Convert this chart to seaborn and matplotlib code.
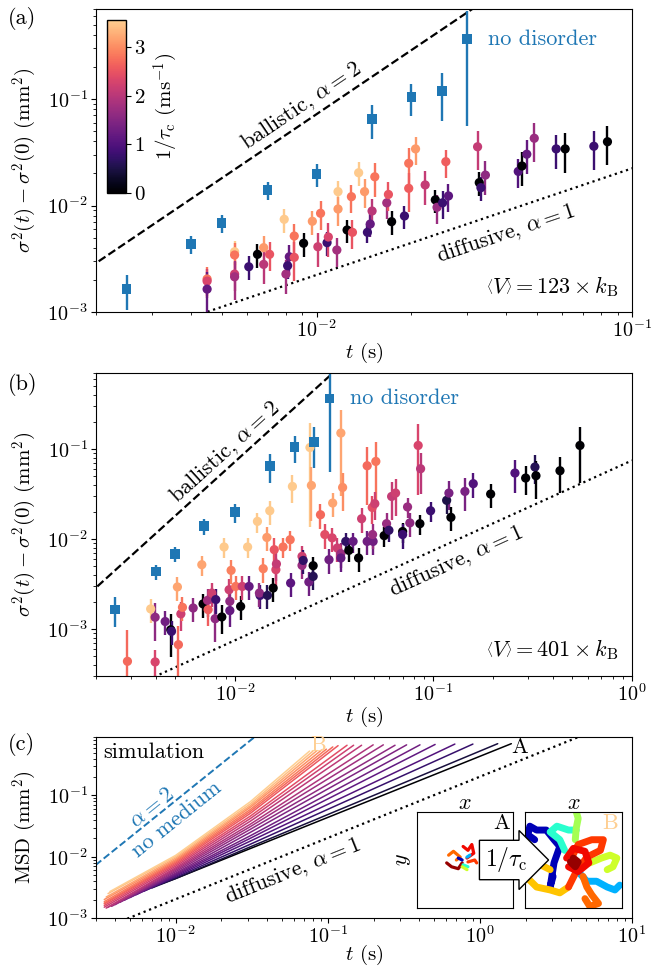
import numpy as np
import pandas as pd
import matplotlib
matplotlib.use('Agg')
import matplotlib.pyplot as plt
import matplotlib.colors as mcolors
import matplotlib.cm as cm
import matplotlib.ticker as mticker
import seaborn as sns

sns.set_style('ticks', rc={'axes.edgecolor': 'black', 'text.color': 'black',
                           'xtick.color': 'black', 'ytick.color': 'black',
                           'axes.labelcolor': 'black'})
plt.rcParams['font.family'] = ['cmr10', 'DejaVu Serif']
plt.rcParams['mathtext.fontset'] = 'cm'
plt.rcParams['axes.formatter.use_mathtext'] = True
plt.rcParams['font.size'] = 16
plt.rcParams['axes.labelsize'] = 15
plt.rcParams['xtick.labelsize'] = 14.5
plt.rcParams['ytick.labelsize'] = 14.5
plt.rcParams['xtick.major.size'] = 3.5
plt.rcParams['ytick.major.size'] = 3.5
plt.rcParams['xtick.minor.size'] = 2
plt.rcParams['ytick.minor.size'] = 2
plt.rcParams['xtick.major.pad'] = 1.5
plt.rcParams['ytick.major.pad'] = 2.5
plt.rcParams['axes.labelpad'] = 0
plt.rcParams['xtick.minor.visible'] = True
plt.rcParams['ytick.minor.visible'] = True

# no disorder reference (same in a and b), t in ms, msd in mm^2
t_nd_ms = [2.5, 4.0, 5.0, 7.0, 10.0, 15.0, 20.0, 25.0, 30.0]
msd_nd = [1.64e-3, 4.35e-3, 6.86e-3, 0.0140, 0.0198, 0.0649, 0.1045, 0.119, 0.366]
err_nd = [0.6e-3, 0.85e-3, 1.3e-3, 0.0028, 0.0048, 0.023, 0.035, 0.057, 0.31]

# panel (a): <V> = 123 kB ; t in ms, msd in 1e-3 mm^2, relative error, 1/tau_c (1/ms)
t_a_ms = [4.5, 4.5, 4.5, 5.5, 5.5, 5.5, 5.5, 6.1, 6.5, 6.8, 6.8, 7.1, 7.9, 8.0, 8.1,
          8.2, 8.5, 8.5, 9.1, 9.7, 10.1, 10.3, 10.8, 10.9, 11.6, 11.7, 11.7, 12.5, 13.0, 12.9,
          13.6, 14.2, 14.5, 14.8, 15.0, 15.3, 16.7, 16.9, 17.3, 19.0, 19.6, 19.6, 20.6, 22.1, 23.8,
          24.1, 25.1, 26.2, 25.7, 32.4, 32.8, 33.2, 34.3, 43.6, 44.8, 46.4, 49.0, 57.5, 61.4, 75.7,
          83.6]
msd_a = [2.04, 1.95, 1.64, 3.68, 3.43, 2.27, 2.14, 2.66, 3.48, 4.02, 2.80, 3.48, 7.42, 2.27, 2.72,
         3.30, 5.17, 3.26, 4.42, 7.11, 4.10, 8.45, 4.48, 5.06, 3.82, 13.5, 9.27, 5.89, 5.60, 12.1,
         20.3, 13.5, 5.60, 6.70, 8.88, 18.6, 10.6, 12.7, 7.05, 7.97, 24.9, 14.5, 34.0, 15.6, 11.3,
         9.62, 10.6, 12.3, 25.8, 35.6, 16.4, 14.7, 19.3, 20.9, 23.5, 30.3, 42.8, 34.0, 34.0, 36.0,
         39.7]
rel_a = [0.3, 0.3, 0.45, 0.25, 0.3, 0.3, 0.4, 0.25, 0.25, 0.3, 0.35, 0.3, 0.25, 0.35, 0.25,
         0.3, 0.3, 0.4, 0.25, 0.25, 0.35, 0.3, 0.25, 0.35, 0.3, 0.25, 0.3, 0.25, 0.3, 0.3,
         0.25, 0.3, 0.2, 0.25, 0.3, 0.35, 0.3, 0.3, 0.25, 0.25, 0.4, 0.4, 0.3, 0.35, 0.25,
         0.3, 0.3, 0.3, 0.3, 0.4, 0.25, 0.25, 0.35, 0.3, 0.35, 0.35, 0.4, 0.35, 0.4, 0.4,
         0.4]
inv_tau_a = [2.8, 2.3, 1.2, 3.5, 2.8, 2.2, 1.8, 0.8, 0.0, 3.1, 2.0, 2.5, 3.5, 1.8, 0.8,
             1.2, 2.8, 2.5, 0.0, 3.1, 2.2, 2.8, 0.8, 2.3, 1.8, 3.5, 3.1, 0.0, 2.5, 2.8,
             3.5, 3.1, 0.8, 1.2, 2.0, 2.8, 1.8, 2.5, 0.0, 0.8, 2.8, 2.6, 3.1, 2.1, 0.0,
             1.7, 0.8, 1.1, 2.6, 2.1, 0.0, 0.8, 1.6, 1.0, 0.0, 1.2, 1.7, 0.8, 0.0, 0.8,
             0.0]

# panel (b): <V> = 401 kB
t_b_ms = [2.88, 3.77, 3.97, 3.97, 4.46, 4.76, 4.80, 5.14, 5.20, 5.35,
          5.45, 6.17, 6.82, 6.92, 7.29, 7.66, 7.34, 7.96, 8.02, 8.60,
          8.83, 9.36, 9.44, 9.44, 9.58, 10.1, 10.7, 10.9, 11.8, 11.6,
          13.0, 13.4, 13.3, 13.9, 14.5, 14.6, 15.0, 15.6, 15.8, 16.1,
          16.2, 17.5, 19.0, 19.5, 19.1, 21.8, 21.8, 22.1, 23.6, 24.8,
          24.8, 23.9, 24.3, 27.0, 28.4, 30.9, 29.8, 31.1, 32.8, 34.2,
          34.2, 34.2, 34.9, 36.2, 37.5, 39.4, 42.0, 43.5, 46.4, 51.3,
          46.4, 49.7, 49.4, 49.2, 50.7, 56.5, 58.1, 59.7, 61.6, 64.5,
          70.0, 70.0, 74.1, 76.1, 83.8, 86.2, 85.5, 96.8, 116.6, 119.7,
          122.5, 144.1, 158.7, 194.2, 257.4, 291.4, 324.6, 328.4, 433.9, 547.0]
msd_b = [0.437, 1.67, 1.35, 0.430, 1.21, 0.98, 0.94, 2.93, 0.669, 1.47,
         1.74, 1.71, 5.18, 1.90, 2.08, 2.51, 1.64, 1.30, 2.12, 1.36,
         8.15, 2.73, 1.60, 2.03, 4.48, 2.97, 1.78, 2.97, 2.97, 8.15,
         15.7, 2.36, 2.51, 4.68, 10.4, 2.36, 20.6, 2.85, 7.61, 4.56,
         5.28, 8.15, 9.82, 38.4, 3.24, 6.41, 5.09, 5.78, 3.33, 5.05,
         3.84, 104.0, 39.4, 18.6, 11.2, 10.3, 5.89, 25.1, 7.94, 6.87,
         6.15, 150.6, 37.4, 9.40, 7.47, 9.40, 6.15, 16.8, 65.2, 72.8,
         9.40, 9.40, 11.2, 22.4, 24.7, 10.9, 14.8, 12.5, 29.7, 32.4,
         12.1, 11.2, 22.7, 15.1, 109.6, 60.4, 14.8, 20.6, 26.9, 32.4,
         17.4, 33.8, 41.2, 31.6, 54.1, 47.6, 63.1, 50.5, 57.4, 109.6]
rel_b = [1.25, 0.3, 0.45, 0.35, 0.3, 0.5, 0.3, 0.3, 0.6, 0.35,
         0.3, 0.3, 0.25, 0.3, 0.35, 0.3, 0.35, 0.45, 0.3, 0.35,
         0.25, 0.3, 0.35, 0.3, 0.3, 0.3, 0.3, 0.3, 0.3, 0.25,
         0.25, 0.3, 0.3, 0.3, 0.3, 0.3, 0.3, 0.3, 0.35, 0.35,
         0.35, 0.25, 0.25, 0.35, 0.3, 0.3, 0.3, 0.3, 0.3, 0.25,
         0.3, 0.87, 0.6, 0.3, 0.3, 0.3, 0.3, 0.3, 0.3, 0.3,
         0.3, 0.8, 0.45, 0.25, 0.25, 0.25, 0.3, 0.3, 0.63, 0.65,
         0.3, 0.3, 0.3, 0.35, 0.35, 0.25, 0.3, 0.25, 0.45, 0.45,
         0.25, 0.3, 0.25, 0.3, 0.72, 0.48, 0.25, 0.25, 0.3, 0.35,
         0.3, 0.4, 0.3, 0.3, 0.4, 0.35, 0.35, 0.45, 0.43, 0.62]
inv_tau_b = [2.7, 3.5, 1.6, 2.3, 1.3, 0.0, 0.8, 3.2, 2.7, 2.2,
             2.8, 1.6, 3.2, 0.0, 1.8, 2.2, 2.6, 1.6, 0.8, 0.0,
             3.5, 2.2, 1.2, 1.6, 2.9, 2.8, 0.0, 2.2, 1.2, 3.5,
             3.5, 0.8, 1.6, 2.9, 3.1, 0.6, 3.5, 0.0, 2.5, 2.3,
             2.1, 2.8, 2.8, 3.5, 1.1, 2.2, 1.7, 0.7, 1.3, 0.0,
             0.6, 3.5, 3.2, 2.7, 2.4, 2.3, 1.3, 3.2, 2.2, 1.7,
             1.2, 3.2, 3.0, 0.7, 0.0, 1.2, 0.0, 2.2, 2.7, 2.8,
             1.3, 1.3, 1.7, 2.4, 2.2, 0.0, 1.7, 0.7, 2.1, 2.2,
             0.0, 0.8, 1.7, 1.6, 2.3, 2.0, 0.0, 0.8, 0.5, 1.4,
             0.0, 1.4, 1.0, 0.0, 1.0, 0.0, 0.6, 0.0, 0.0, 0.0]

# guide lines (msd = coef * t^alpha)
ballistic_coef = 720.0
diffusive_coef_a = 0.223
diffusive_coef_b = 0.0747
nomedium_coef = 822.0
diffusive_coef_c = 0.2024

# panel (c): simulated MSD curves, bright (large 1/tau_c) to dark
sim_inv_tau = [3.55, 3.4, 3.2, 3.0, 2.85, 2.7, 2.55, 2.4, 2.2, 2.05,
               1.9, 1.75, 1.6, 1.45, 1.3, 1.15, 1.0, 0.75, 0.45, 0.0]
sim_t0 = [3.7e-3, 3.6e-3, 3.5e-3, 3.4e-3, 3.4e-3, 3.4e-3, 3.4e-3, 3.4e-3, 3.4e-3, 3.5e-3,
          3.6e-3, 3.8e-3, 4.0e-3, 4.3e-3, 4.6e-3, 5.0e-3, 5.5e-3, 6.2e-3, 7.0e-3, 8.0e-3]
sim_y0 = [2.7e-3, 2.5e-3, 2.2e-3, 2.0e-3, 1.85e-3, 1.75e-3, 1.7e-3, 1.6e-3, 1.5e-3, 1.45e-3,
          1.5e-3, 1.55e-3, 1.65e-3, 1.8e-3, 1.95e-3, 2.15e-3, 2.4e-3, 2.75e-3, 3.1e-3, 3.6e-3]
sim_y10ms = [10.5e-3, 10.0e-3, 9.5e-3, 9.0e-3, 8.6e-3, 8.2e-3, 7.8e-3, 7.4e-3, 7.0e-3, 6.6e-3,
             6.3e-3, 6.0e-3, 5.7e-3, 5.4e-3, 5.2e-3, 5.0e-3, 4.8e-3, 4.6e-3, 4.4e-3, 4.4e-3]
sim_y31ms = [0.079, 0.073, 0.068, 0.064, 0.059, 0.055, 0.051, 0.046, 0.042, 0.038,
             0.034, 0.031, 0.028, 0.025, 0.022, 0.020, 0.018, 0.016, 0.0145, 0.0136]
sim_t1 = [0.076, 0.080, 0.085, 0.091, 0.098, 0.108, 0.117, 0.134, 0.148, 0.167,
          0.199, 0.232, 0.277, 0.330, 0.404, 0.508, 0.685, 0.90, 1.31, 1.61]
sim_y1 = [0.53, 0.53, 0.54, 0.55, 0.57, 0.62, 0.65, 0.66, 0.66, 0.66,
          0.67, 0.67, 0.66, 0.67, 0.67, 0.68, 0.69, 0.69, 0.70, 0.70]

# inset trajectories (box coordinates), hue on jet
traj_A_x = [[0.33, 0.38, 0.45, 0.41], [0.31, 0.36, 0.43, 0.47], [0.48, 0.53, 0.57, 0.59, 0.52],
            [0.53, 0.60, 0.62], [0.52, 0.55], [0.48, 0.53], [0.47, 0.52], [0.43, 0.47]]
traj_A_y = [[0.55, 0.59, 0.53, 0.50], [0.47, 0.43, 0.41, 0.47], [0.64, 0.60, 0.66, 0.57, 0.52],
            [0.48, 0.50, 0.47], [0.53, 0.55], [0.45, 0.43], [0.43, 0.40], [0.52, 0.50]]
traj_A_hue = [0.8, 0.98, 0.9, 0.85, 0.3, 0.4, 0.6, 0.05]
traj_B_x = [[0.29, 0.26, 0.30, 0.36, 0.30, 0.22, 0.12, 0.05, 0.03, 0.10],
            [0.53, 0.64, 0.74, 0.85, 0.93, 0.98],
            [0.41, 0.36, 0.26, 0.33, 0.45, 0.53],
            [0.52, 0.53, 0.55, 0.53],
            [0.67, 0.79, 0.88, 0.95, 0.91, 0.85],
            [0.26, 0.16, 0.05, 0.03, 0.12, 0.26, 0.36, 0.45],
            [0.60, 0.64, 0.69, 0.76, 0.67, 0.62],
            [0.47, 0.55, 0.69, 0.81, 0.78, 0.64, 0.52, 0.45],
            [0.43, 0.50, 0.62, 0.66, 0.55, 0.45],
            [0.47, 0.52, 0.55, 0.50]]
traj_B_y = [[0.33, 0.22, 0.47, 0.64, 0.71, 0.81, 0.81, 0.85, 0.76, 0.71],
            [0.40, 0.28, 0.28, 0.22, 0.19, 0.24],
            [0.60, 0.71, 0.79, 0.85, 0.81, 0.81],
            [0.71, 0.83, 0.93, 1.00],
            [0.47, 0.52, 0.55, 0.52, 0.43, 0.40],
            [0.40, 0.45, 0.41, 0.31, 0.22, 0.19, 0.16, 0.22],
            [0.33, 0.22, 0.14, 0.05, 0.02, 0.10],
            [0.50, 0.66, 0.71, 0.71, 0.60, 0.53, 0.36, 0.22],
            [0.52, 0.62, 0.59, 0.47, 0.38, 0.43],
            [0.48, 0.43, 0.48, 0.52]]
traj_B_hue = [0.05, 0.3, 0.4, 0.55, 0.6, 0.7, 0.8, 0.85, 0.9, 0.98]

cmap = mcolors.ListedColormap(plt.cm.magma(np.linspace(0, 0.9, 256)))
norm = mcolors.Normalize(0, 3.55)
blue = '#1f77b4'

W, H = 655, 967
fig = plt.figure(figsize=(W / 100, H / 100), dpi=100)


def px_axes(x0, y0, x1, y1):
    return fig.add_axes([x0 / W, 1 - y1 / H, (x1 - x0) / W, (y1 - y0) / H])


def slope_angle(ax, slope):
    pos = ax.get_position()
    x0, x1 = ax.get_xlim()
    y0, y1 = ax.get_ylim()
    sx = pos.width * W / np.log10(x1 / x0)
    sy = pos.height * H / np.log10(y1 / y0)
    return np.degrees(np.arctan(slope * sy / sx))


def setup(ax, xlim, ylim, ylabel):
    ax.set_xscale('log')
    ax.set_yscale('log')
    ax.set_xlim(xlim)
    ax.set_ylim(ylim)
    ax.set_xlabel(r'$t$ (s)')
    ax.set_ylabel(ylabel, labelpad=6)
    ax.xaxis.set_minor_formatter(mticker.NullFormatter())
    ax.yaxis.set_minor_formatter(mticker.NullFormatter())


def data_panel(ax, t_ms, msd, rel, hue):
    t = np.array(t_ms) * 1e-3
    y = np.array(msd) * 1e-3
    err = y * np.array(rel)
    eb = ax.errorbar(t, y, yerr=err, fmt='none', elinewidth=1.7, ecolor='k')
    eb[2][0].set_color(cmap(norm(np.array(hue))))
    sns.scatterplot(x=t, y=y, hue=hue, palette=cmap, hue_norm=norm, s=44,
                    edgecolor='none', legend=False, ax=ax, zorder=3)
    t_nd = np.array(t_nd_ms) * 1e-3
    ax.errorbar(t_nd, msd_nd, yerr=err_nd, fmt='none', elinewidth=1.7, ecolor=blue)
    sns.scatterplot(x=t_nd, y=msd_nd, marker='s', color=blue, s=48,
                    edgecolor='none', legend=False, ax=ax, zorder=3)


ylab = r'$\sigma^2(t) - \sigma^2(0)$ (mm$^2$)'

# ---------------- (a)
ax_a = px_axes(96, 9, 632, 312)
setup(ax_a, (2e-3, 0.1), (1e-3, 0.7), ylab)
data_panel(ax_a, t_a_ms, msd_a, rel_a, inv_tau_a)
tt = np.array([1e-3, 1.0])
ax_a.plot(tt, ballistic_coef * tt ** 2, 'k--', lw=1.6, zorder=1)
ax_a.plot(tt, diffusive_coef_a * tt, 'k:', lw=1.6, zorder=1)
ax_a.text(8.97e-3, 0.086, r'ballistic, $\alpha = 2$', rotation=slope_angle(ax_a, 2),
          rotation_mode='anchor', ha='center', va='center')
ax_a.text(0.0399, 5.4e-3, r'diffusive, $\alpha = 1$', rotation=slope_angle(ax_a, 1),
          rotation_mode='anchor', ha='center', va='center')
ax_a.text(0.035, 0.366, 'no disorder', color=blue, ha='left', va='center')
ax_a.text(0.974, 0.083, r'$\left\langle V\right\rangle = 123\times k_\mathrm{B}$',
          transform=ax_a.transAxes, ha='right', va='center')

cax = px_axes(107, 20, 126, 193)
cb = fig.colorbar(cm.ScalarMappable(norm=norm, cmap=cmap), cax=cax)
cb.set_ticks([0, 1, 2, 3])
cb.ax.minorticks_off()
cb.ax.tick_params(labelsize=15, pad=2.5)
cb.set_label(r'$1/\tau_\mathrm{c}$ (ms$^{-1}$)', fontsize=15, labelpad=4)
cb.outline.set_linewidth(1.0)

# ---------------- (b)
ax_b = px_axes(96, 373, 632, 676)
setup(ax_b, (2e-3, 1.0), (3e-4, 0.7), ylab)
data_panel(ax_b, t_b_ms, msd_b, rel_b, inv_tau_b)
ax_b.plot(tt, ballistic_coef * tt ** 2, 'k--', lw=1.6, zorder=1)
ax_b.plot(tt, diffusive_coef_b * tt, 'k:', lw=1.6, zorder=1)
ax_b.text(8.9e-3, 0.093, r'ballistic, $\alpha = 2$', rotation=slope_angle(ax_b, 2),
          rotation_mode='anchor', ha='center', va='center')
ax_b.text(0.130, 5.6e-3, r'diffusive, $\alpha = 1$', rotation=slope_angle(ax_b, 1),
          rotation_mode='anchor', ha='center', va='center')
ax_b.text(0.038, 0.371, 'no disorder', color=blue, ha='left', va='center')
ax_b.text(0.974, 0.086, r'$\left\langle V\right\rangle = 401\times k_\mathrm{B}$',
          transform=ax_b.transAxes, ha='right', va='center')

# ---------------- (c)
ax_c = px_axes(96, 737, 632, 918)
rows = []
for i in range(len(sim_inv_tau)):
    for tv, yv in zip([sim_t0[i], 0.01, 0.031, sim_t1[i]],
                      [sim_y0[i], sim_y10ms[i], sim_y31ms[i], sim_y1[i]]):
        rows.append({'run': i, 't': tv, 'msd': yv, 'inv_tau': sim_inv_tau[i]})
df_sim = pd.DataFrame(rows)
sns.lineplot(data=df_sim, x='t', y='msd', hue='inv_tau', units='run', estimator=None,
             palette=cmap, hue_norm=norm, legend=False, lw=1.1, sort=False, ax=ax_c)
setup(ax_c, (3e-3, 10.0), (1e-3, 0.9), 'MSD (mm$^2$)')
ax_c.set_xlabel(r'$t$ (s)', labelpad=-3)
tc = np.array([1e-3, 20.0])
ax_c.plot(tc, nomedium_coef * tc ** 2, '--', color=blue, lw=1.4)
ax_c.plot(tc, diffusive_coef_c * tc, 'k:', lw=1.6)
ang2 = slope_angle(ax_c, 2)
ax_c.text(7.06e-3, 0.063, r'$\alpha = 2$', color=blue, rotation=ang2,
          rotation_mode='anchor', ha='center', va='center')
ax_c.text(0.0102, 0.040, 'no medium', color=blue, rotation=ang2,
          rotation_mode='anchor', ha='center', va='center')
ax_c.text(0.0594, 5.9e-3, r'diffusive, $\alpha = 1$', rotation=slope_angle(ax_c, 1),
          rotation_mode='anchor', ha='center', va='center')
ax_c.text(0.013, 0.917, 'simulation', transform=ax_c.transAxes, ha='left', va='center')
ax_c.text(1.83, 0.62, 'A', ha='center', va='center', zorder=5)
ax_c.text(0.086, 0.67, 'B', color=cmap(1.0), ha='center', va='center', zorder=5)

for (x0, lab, xs, ys, hs, lw) in [(416.7, 'A', traj_A_x, traj_A_y, traj_A_hue, 2.3),
                                   (525.0, 'B', traj_B_x, traj_B_y, traj_B_hue, 5.0)]:
    ins = px_axes(x0, 811.7, x0 + 96.7, 908.3)
    ins.set_xlim(0, 1)
    ins.set_ylim(0, 1)
    ins.set_xticks([])
    ins.set_yticks([])
    ins.minorticks_off()
    for u, v, h in zip(xs, ys, hs):
        ins.plot(u, v, color=plt.cm.jet(h), lw=lw, solid_capstyle='round',
                 solid_joinstyle='round')
    ins.set_xlabel(r'$x$', labelpad=2, fontsize=16)
    ins.xaxis.set_label_position('top')
    ins.text(0.88, 0.88, lab, transform=ins.transAxes, ha='center', va='center',
             color='black' if lab == 'A' else cmap(1.0))
    if lab == 'A':
        ins.set_ylabel(r'$y$', labelpad=3, fontsize=16)

fig.text(506 / W, 1 - 860 / H, r'$1/\tau_\mathrm{c}$', ha='center', va='center', fontsize=17,
         bbox=dict(boxstyle='rarrow,pad=0.22', fc='white', ec='black', lw=1.0), zorder=10)

fig.text(8 / W, 1 - 18 / H, '(a)', ha='left', va='center')
fig.text(8 / W, 1 - 385 / H, '(b)', ha='left', va='center')
fig.text(8 / W, 1 - 745 / H, '(c)', ha='left', va='center')

fig.savefig('out.png', dpi=100)
